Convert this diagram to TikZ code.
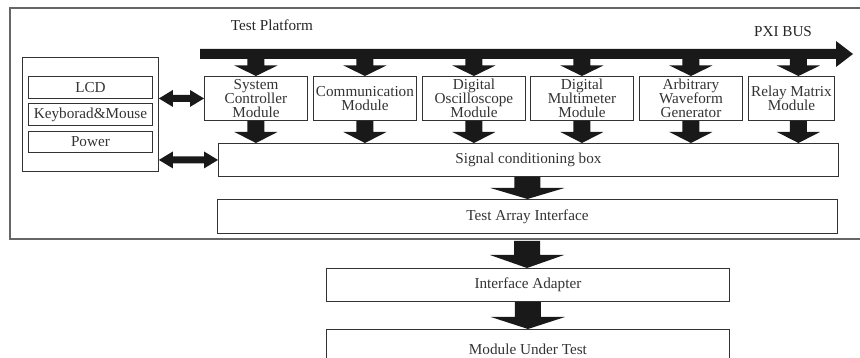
\documentclass[tikz,border=0pt]{standalone}
\usepackage{fontspec}
\setmainfont{Liberation Serif}
\usetikzlibrary{calc}

% solid block arrow pointing down: #1 start, #2 tip, #3 shaft half width,
% #4 head half width, #5 head length (all in pt)
\newcommand\blockdown[5]{%
  \fill[arrowfill] let \p1=(#1), \p2=(#2) in
    (\x2-#3pt,\y1) -- (\x2+#3pt,\y1) -- (\x2+#3pt,\y2+#5pt) -- (\x2+#4pt,\y2+#5pt)
    -- (\x2,\y2) -- (\x2-#4pt,\y2+#5pt) -- (\x2-#3pt,\y2+#5pt) -- cycle;}
% solid double-headed horizontal block arrow: #1 left tip, #2 right tip (same height)
\newcommand\blockboth[2]{%
  \fill[arrowfill] let \p1=(#1), \p2=(#2) in
    (\x1,\y1) -- (\x1+14pt,\y1+8.5pt) -- (\x1+14pt,\y1+3.5pt) -- (\x2-14pt,\y1+3.5pt)
    -- (\x2-14pt,\y1+8.5pt) -- (\x2,\y1) -- (\x2-14pt,\y1-8.5pt) -- (\x2-14pt,\y1-3.5pt)
    -- (\x1+14pt,\y1-3.5pt) -- (\x1+14pt,\y1-8.5pt) -- cycle;}

\begin{document}
\begin{tikzpicture}[x=1pt,y=-1pt,
  font=\fontsize{15.2}{14}\selectfont,
  arrowfill/.style={fill=black!90},
  box/.style={draw=black!80, line width=0.9pt, inner sep=0pt, anchor=north west,
    text=black!80, align=center},
  label/.style={text=black!85, inner sep=0pt}]
\useasboundingbox (0,0) rectangle (860,358);
\clip (0,0) rectangle (860,358);

% outer frame of the test platform (runs off to the right)
\draw[black!60, line width=1.2pt] (10,8) rectangle (880,239);
\node[label] (tp) at (272,25) {Test Platform};
\node[label] (pxi) at (783,32) {PXI BUS};

% PXI bus
\coordinate (busL) at (200,54);
\coordinate (busR) at (853,54);
\fill[arrowfill] (busL) ++(0,-5) -- ($(busR)+(-17,-5)$) -- ($(busR)+(-17,-13)$) -- (busR)
  -- ($(busR)+(-17,13)$) -- ($(busR)+(-17,5)$) -- ($(busL)+(0,5)$) -- cycle;

% front panel
\node[box, minimum width=136pt, minimum height=114pt] (panel) at (22,57) {};
\node[box, minimum width=124pt, minimum height=22pt] (lcd) at (28,76) {LCD};
\node[box, minimum width=124pt, minimum height=22pt] (kbd) at (28,103) {Keyborad\&Mouse};
\node[box, minimum width=124pt, minimum height=21pt] (pwr) at (28,131) {Power};

% instrument modules
\node[box, minimum width=103pt, minimum height=44pt] (m1) at (204,76) {System\\Controller\\Module};
\node[box, minimum width=103pt, minimum height=44pt] (m2) at (313,76) {Communication\\Module};
\node[box, minimum width=103pt, minimum height=44pt] (m3) at (422,76) {Digital\\Oscilloscope\\Module};
\node[box, minimum width=103pt, minimum height=44pt] (m4) at (530,76) {Digital\\Multimeter\\Module};
\node[box, minimum width=103pt, minimum height=44pt] (m5) at (639,76) {Arbitrary\\Waveform\\Generator};
\node[box, minimum width=86pt, minimum height=44pt] (m6) at (748,76) {Relay Matrix\\Module};

% signal path
\node[box, minimum width=620pt, minimum height=33pt] (sig) at (218,143) {Signal conditioning box};
\node[box, minimum width=620pt, minimum height=34pt] (tai) at (217,199) {Test Array Interface};
\node[box, minimum width=403pt, minimum height=33pt] (ia) at (326,268) {Interface Adapter};
\node[box, minimum width=403pt, minimum height=40pt] (mut) at (326,329) {Module Under Test};

% bus to modules, modules to conditioning box
\foreach \m in {m1,m2,m3,m4,m5}{
  \blockdown{\m.north |- busL}{\m.north}{8.5}{21.5}{10.5}
  \blockdown{\m.south}{\m.south |- sig.north}{8.5}{21.5}{11}
}
% the relay matrix arrows sit right of the box centre
\coordinate (m6in) at ($(m6.north)+(7,0)$);
\coordinate (m6out) at ($(m6.south)+(7,0)$);
\blockdown{m6in |- busL}{m6in}{8.5}{21.5}{10.5}
\blockdown{m6out}{m6out |- sig.north}{8.5}{21.5}{11}

% conditioning box down to the unit under test
\coordinate (below) at (527,241);
\blockdown{sig.south -| tai.north}{tai.north}{13}{37}{11}
\blockdown{below}{below |- ia.north}{13}{37}{13}
\blockdown{ia.south}{ia.south |- mut.north}{13}{37}{12}

% panel links
\blockboth{panel.east |- m1.west}{m1.west}
\blockboth{panel.east |- sig.west}{sig.west}
\end{tikzpicture}
\end{document}
